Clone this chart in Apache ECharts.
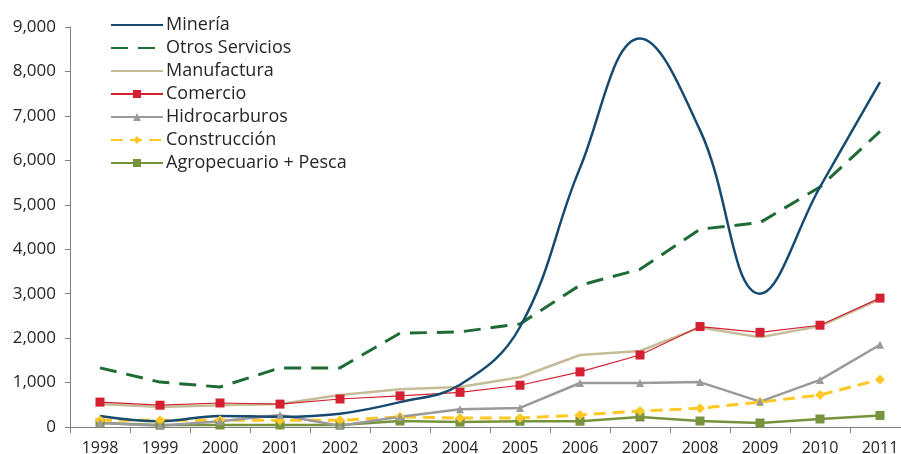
<!DOCTYPE html>
<html>
<head>
<meta charset="utf-8">
<script src="https://cdn.jsdelivr.net/npm/echarts@6/dist/echarts.min.js"></script>
<style>
    html, body { margin: 0; padding: 0; background: #fff; }
    #chart { width: 901px; height: 454px; }
</style>
</head>
<body>
<div id="chart"></div>
<script>
var years = ['1998', '1999', '2000', '2001', '2002', '2003', '2004', '2005', '2006', '2007', '2008', '2009', '2010', '2011'];
var yTicks = [0, 1000, 2000, 3000, 4000, 5000, 6000, 7000, 8000, 9000];

var mineria = [250, 130, 250, 230, 300, 560, 950, 2250, 5830, 8740, 6680, 3000, 5400, 7760];
var otrosServicios = [1330, 1010, 900, 1330, 1330, 2110, 2140, 2320, 3190, 3550, 4450, 4600, 5400, 6650];
var manufactura = [520, 450, 490, 520, 720, 850, 900, 1120, 1620, 1710, 2240, 2020, 2270, 2880];
var comercio = [560, 490, 540, 515, 630, 700, 780, 940, 1240, 1620, 2260, 2130, 2290, 2900];
var hidrocarburos = [90, 30, 130, 270, 30, 230, 400, 430, 990, 990, 1010, 570, 1060, 1850];
var construccion = [150, 150, 150, 150, 150, 230, 200, 200, 270, 360, 420, 560, 720, 1070];
var agropecuario = [90, 45, 45, 45, 45, 135, 110, 130, 130, 225, 135, 90, 180, 260];

var font = '"Open Sans", "Noto Sans", sans-serif';
var chart = echarts.init(document.getElementById('chart'));

var lineSeries = function (name, data, color, width, type, symbol, size, smooth) {
    return {
        name: name,
        type: 'line',
        data: data,
        smooth: smooth || false,
        symbol: symbol || 'none',
        symbolSize: size || 0,
        showSymbol: !!symbol,
        lineStyle: {color: color, width: width, type: type || 'solid'},
        itemStyle: {color: color},
        emphasis: {disabled: true}
    };
};

// legend entries, lines without markers get no symbol in the legend
var noMark = {opacity: 0};

var option = {
    animation: false,
    textStyle: {fontFamily: font},
    legend: {
        orient: 'vertical',
        left: 110,
        top: 16,
        itemWidth: 52,
        itemHeight: 10,
        itemGap: 5,
        padding: 0,
        textStyle: {fontSize: 18, lineHeight: 18, color: '#262626', fontFamily: font, padding: [0, 0, 0, -2]},
        data: [
            {name: 'Minería', itemStyle: noMark},
            {name: 'Otros Servicios', itemStyle: noMark},
            {name: 'Manufactura', itemStyle: noMark},
            'Comercio',
            'Hidrocarburos',
            'Construcción',
            'Agropecuario + Pesca'
        ]
    },
    grid: {left: 70, top: 27, bottom: 27, width: 840, containLabel: false, outerBoundsMode: 'none'},
    xAxis: {
        type: 'category',
        data: years,
        boundaryGap: true,
        axisLine: {lineStyle: {color: '#808080', width: 1}},
        axisTick: {show: true, length: 6, lineStyle: {color: '#808080'}},
        axisLabel: {fontSize: 16, color: '#262626', margin: 13, fontFamily: font}
    },
    yAxis: {
        type: 'value',
        min: 0,
        max: 9000,
        interval: 1000,
        splitLine: {show: false},
        axisLine: {show: true, lineStyle: {color: '#808080', width: 1}},
        axisTick: {show: true, length: 5, lineStyle: {color: '#808080'}},
        axisLabel: {
            fontSize: 17, color: '#262626', margin: 14, fontFamily: font,
            formatter: function (v) {
                return yTicks.indexOf(v) >= 0 ? v.toLocaleString('en-US') : '';
            }
        }
    },
    series: [
        lineSeries('Agropecuario + Pesca', agropecuario, '#77933c', 2.5, 'solid', 'rect', 9),
        lineSeries('Construcción', construccion, '#ffc825', 3, [12, 7], 'diamond', 10),
        lineSeries('Hidrocarburos', hidrocarburos, '#9a9a9a', 2.5, 'solid', 'triangle', 8),
        lineSeries('Manufactura', manufactura, '#c4bd97', 2.5),
        lineSeries('Comercio', comercio, '#d42030', 1.2, 'solid', 'rect', 9),
        lineSeries('Otros Servicios', otrosServicios, '#1e6b35', 3, [17, 10]),
        lineSeries('Minería', mineria, '#174a70', 2.5, 'solid', null, 0, 0.4)
    ]
};

chart.setOption(option);
</script>
</body>
</html>
